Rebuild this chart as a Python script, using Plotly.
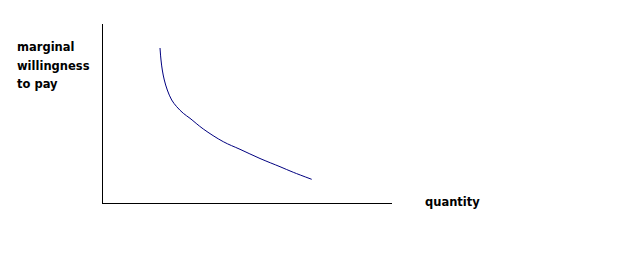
import plotly.graph_objects as go

# curve data (quantity, marginal willingness to pay) in arbitrary units
quantity = [57, 58, 59.3, 61.3, 64.3, 68.7, 73.7, 80.3, 87, 100.3, 120.3, 137, 157, 177, 190.3, 208.7]
mwtp = [155, 143, 133, 123, 113, 103, 96.3, 89.7, 84.7, 74, 61.3, 53.7, 44.5, 36.3, 30.7, 23.7]

x_label = "quantity"
y_label_lines = ["marginal", "willingness", "to pay"]

W, H = 624, 264
L, R, T, B = 103, 392, 24, 203  # plot area pixel bounds

def px_x(px):
    return (px - L) / (R - L)

def px_y(py):
    return (B - py) / (B - T)

fig = go.Figure()
fig.add_trace(go.Scatter(x=quantity, y=mwtp, mode="lines",
                         line=dict(color="#000080", width=1, shape="spline", smoothing=1.0),
                         hoverinfo="skip", showlegend=False))

font = dict(family="DejaVu Sans", size=11.5, color="black", weight="bold")
ann = [dict(text=f"<b>{x_label}</b>", xref="paper", yref="paper", x=px_x(423), y=px_y(202),
            xanchor="left", yanchor="middle", showarrow=False, font=font)]
for txt, py in zip(y_label_lines, [47, 65.5, 84]):
    ann.append(dict(text=f"<b>{txt}</b>", xref="paper", yref="paper", x=px_x(15), y=px_y(py),
                    xanchor="left", yanchor="middle", showarrow=False, font=font))

fig.update_layout(
    width=W, height=H,
    margin=dict(l=L, r=W - R, t=T, b=H - B, pad=0),
    paper_bgcolor="white", plot_bgcolor="white",
    xaxis=dict(range=[0, R - L], showgrid=False, zeroline=False, showticklabels=False,
               ticks="", showline=True, linecolor="black", linewidth=1),
    yaxis=dict(range=[0, B - T], showgrid=False, zeroline=False, showticklabels=False,
               ticks="", showline=True, linecolor="black", linewidth=1),
    annotations=ann,
)

fig.write_html("out.html")
